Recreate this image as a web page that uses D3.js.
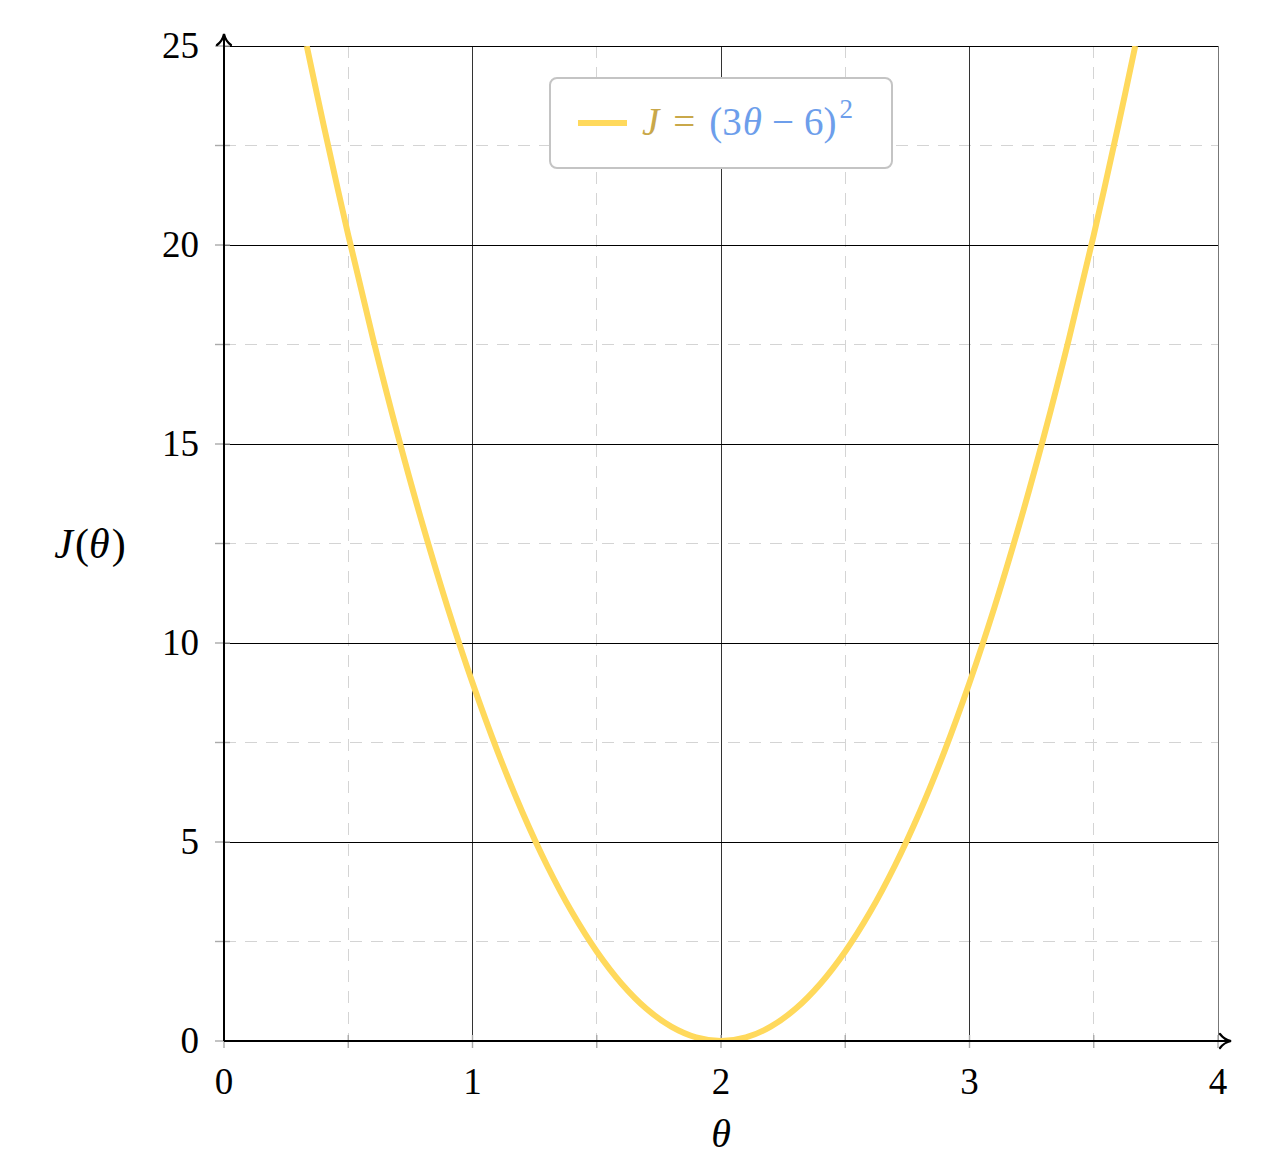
<!DOCTYPE html>
<html><head><meta charset="utf-8">
<script src="https://cdn.jsdelivr.net/npm/d3@7"></script>
<style>body{margin:0;background:#fff}svg{display:block}</style>
</head><body>
<script>
const thetaValues = [0.333,0.4,0.5,0.6,0.7,0.8,0.9,1.0,1.1,1.2,1.3,1.4,1.5,1.6,1.7,1.8,1.9,2.0,2.1,2.2,2.3,2.4,2.5,2.6,2.7,2.8,2.9,3.0,3.1,3.2,3.3,3.4,3.5,3.6,3.667];
const jValues = [25.0,23.04,20.25,17.64,15.21,12.96,10.89,9.0,7.29,5.76,4.41,3.24,2.25,1.44,0.81,0.36,0.09,0.0,0.09,0.36,0.81,1.44,2.25,3.24,4.41,5.76,7.29,9.0,10.89,12.96,15.21,17.64,20.25,23.04,25.0];
const xTicks = [0,1,2,3,4];
const yTicks = [0,5,10,15,20,25];
const xMinor = [0.5,1.5,2.5,3.5];
const yMinor = [2.5,7.5,12.5,17.5,22.5];

const W=1266,H=1171;
const L=224,R=1218,T=46,B=1041;
const x=d3.scaleLinear().domain([0,4]).range([L,R]);
const y=d3.scaleLinear().domain([0,25]).range([B,T]);
const svg=d3.select("body").append("svg").attr("width",W).attr("height",H);
const font="'Liberation Serif','Times New Roman',serif";

// minor dashed grid
const g=svg.append("g").attr("shape-rendering","crispEdges");
g.selectAll(".mx").data(xMinor).join("line").attr("x1",d=>x(d)).attr("x2",d=>x(d)).attr("y1",T).attr("y2",B)
 .attr("stroke","#d4d4d4").attr("stroke-width",1).attr("stroke-dasharray","12,9");
g.selectAll(".my").data(yMinor).join("line").attr("y1",d=>y(d)).attr("y2",d=>y(d)).attr("x1",L).attr("x2",R)
 .attr("stroke","#d4d4d4").attr("stroke-width",1).attr("stroke-dasharray","12,9");
// major grid
g.selectAll(".Mx").data(xTicks.slice(1)).join("line").attr("x1",d=>x(d)).attr("x2",d=>x(d)).attr("y1",T).attr("y2",B)
 .attr("stroke",d=>d===4?"#777":"#333").attr("stroke-width",1);
g.selectAll(".My").data(yTicks.slice(1)).join("line").attr("y1",d=>y(d)).attr("y2",d=>y(d)).attr("x1",L).attr("x2",R)
 .attr("stroke","#000").attr("stroke-width",1);

// ticks (grey, both sides)
const tk=svg.append("g").attr("stroke","#aaa").attr("stroke-width",1.4);
tk.selectAll(".tx").data(xTicks.concat(xMinor)).join("line").attr("x1",d=>x(d)).attr("x2",d=>x(d)).attr("y1",B-6).attr("y2",B+7);
tk.selectAll(".ty").data(yTicks.concat(yMinor)).join("line").attr("y1",d=>y(d)).attr("y2",d=>y(d)).attr("x1",L-9).attr("x2",L+6);

// curve
svg.append("clipPath").attr("id","clip").append("rect").attr("x",L).attr("y",T).attr("width",R-L).attr("height",B-T);
const pts=thetaValues.map((t,i)=>[t,jValues[i]]);
svg.append("path").datum(pts).attr("clip-path","url(#clip)")
 .attr("d",d3.line().x(d=>x(d[0])).y(d=>y(d[1])).curve(d3.curveCatmullRom))
 .attr("fill","none").attr("stroke","#ffd95c").attr("stroke-width",6);

// axes lines
svg.append("line").attr("x1",L).attr("x2",1228).attr("y1",B).attr("y2",B).attr("stroke","#000").attr("stroke-width",2);
svg.append("line").attr("x1",L).attr("x2",L).attr("y1",B).attr("y2",37).attr("stroke","#000").attr("stroke-width",2);
// arrowheads
svg.append("path").attr("d",`M1220,1034 Q1224,1039.5 1231,1041 Q1224,1042.5 1220,1048`).attr("fill","none").attr("stroke","#000").attr("stroke-width",2.2).attr("stroke-linecap","round");
svg.append("path").attr("d",`M217,45 Q222.5,41 224,34 Q225.5,41 231,45`).attr("fill","none").attr("stroke","#000").attr("stroke-width",2.2).attr("stroke-linecap","round");

// tick labels
svg.append("g").selectAll("text").data(xTicks).join("text").attr("x",d=>x(d)).attr("y",1094)
 .attr("text-anchor","middle").attr("font-family",font).attr("font-size",37).text(d=>d);
svg.append("g").selectAll("text").data(yTicks).join("text").attr("x",199).attr("y",d=>y(d)+12)
 .attr("text-anchor","end").attr("font-family",font).attr("font-size",37).text(d=>d);

// axis labels
svg.append("text").attr("x",721).attr("y",1147).attr("text-anchor","middle").attr("font-family",font)
 .attr("font-style","italic").attr("font-size",40).text("θ");
const yl=svg.append("text").attr("x",90).attr("y",558).attr("text-anchor","middle").attr("font-family",font).attr("font-size",42);
yl.append("tspan").attr("font-style","italic").text("J");
yl.append("tspan").attr("dx",2).text("(");
yl.append("tspan").attr("font-style","italic").text("θ");
yl.append("tspan").attr("dx",2).text(")");

// legend
svg.append("rect").attr("x",550).attr("y",78).attr("width",342).attr("height",90).attr("rx",7)
 .attr("fill","#fff").attr("stroke","#c4c4c4").attr("stroke-width",2);
svg.append("line").attr("x1",578).attr("x2",627).attr("y1",123).attr("y2",123).attr("stroke","#ffd95c").attr("stroke-width",6);
const lt=svg.append("text").attr("x",642).attr("y",135).attr("font-family",font).attr("font-size",39);
lt.append("tspan").attr("fill","#c9a84a").attr("font-style","italic").text("J");
lt.append("tspan").attr("fill","#c9a84a").attr("dx",14).text("=");
lt.append("tspan").attr("fill","#6d9eeb").attr("dx",14).text("(3");
lt.append("tspan").attr("fill","#6d9eeb").attr("font-style","italic").attr("dx",1).text("θ");
lt.append("tspan").attr("fill","#6d9eeb").attr("dx",10).text("−");
lt.append("tspan").attr("fill","#6d9eeb").attr("dx",10).text("6)");
lt.append("tspan").attr("fill","#6d9eeb").attr("font-size",27).attr("dy",-17).attr("dx",3).text("2");
</script>
</body></html>
